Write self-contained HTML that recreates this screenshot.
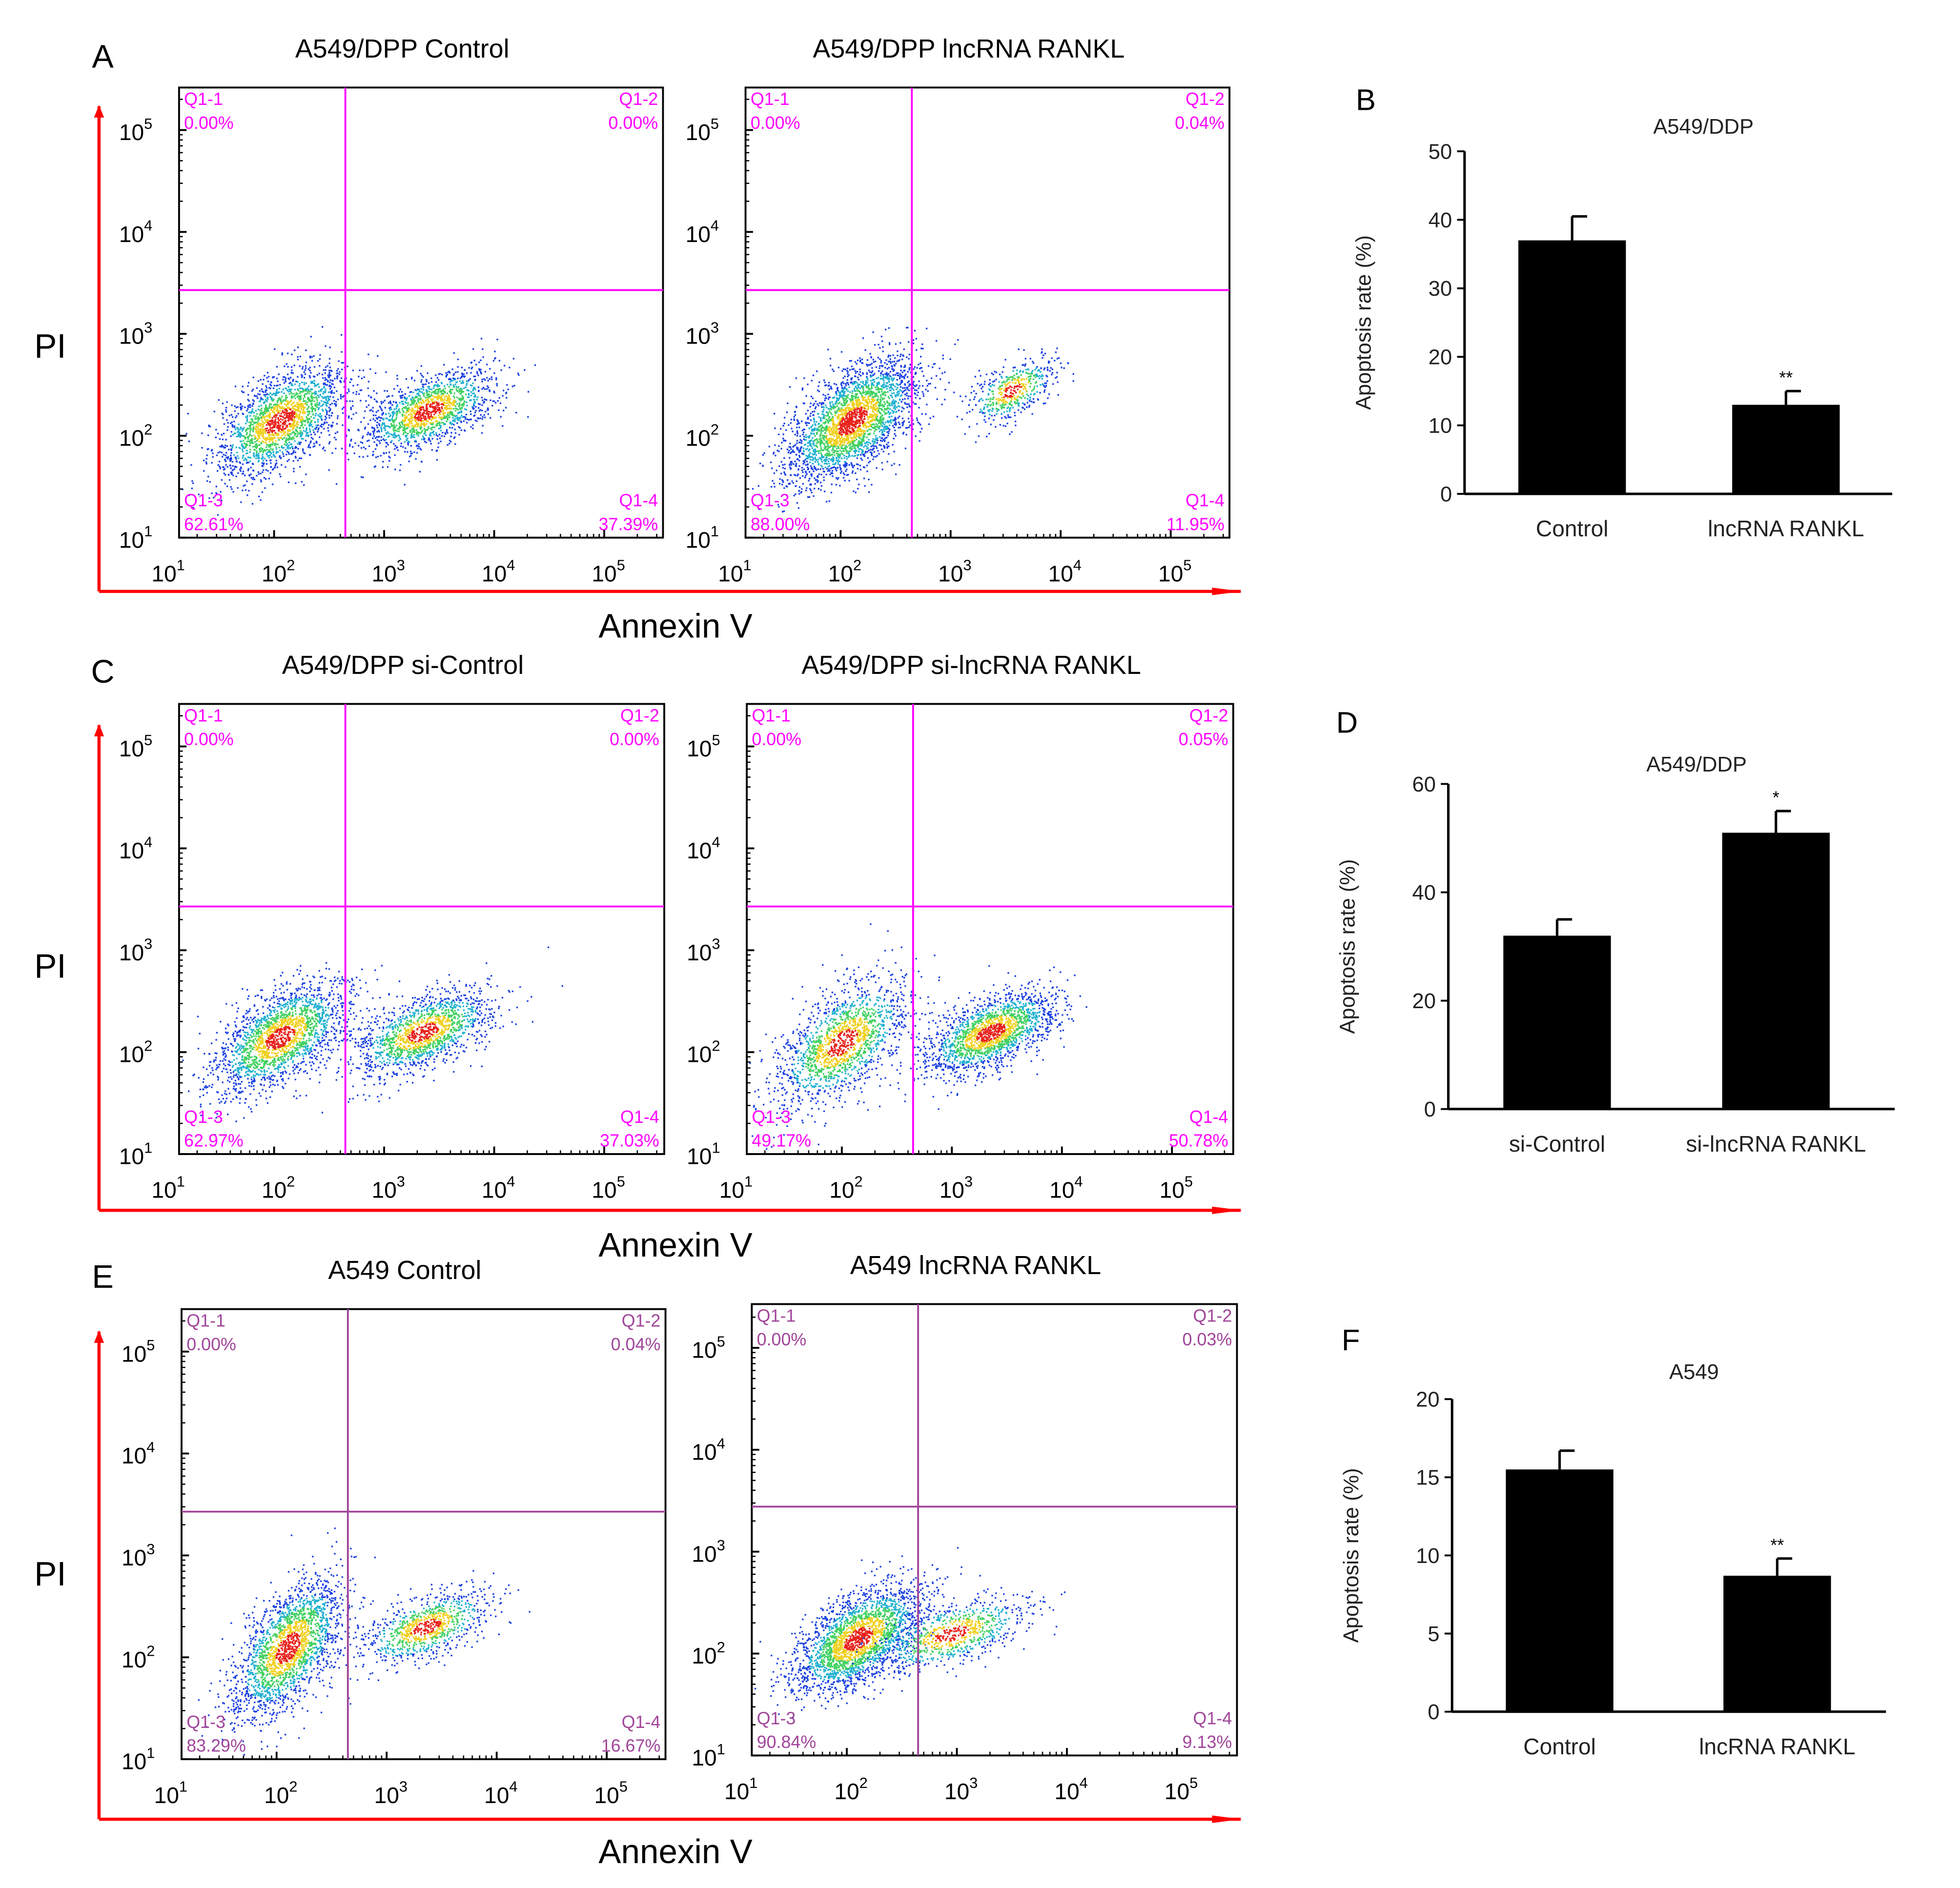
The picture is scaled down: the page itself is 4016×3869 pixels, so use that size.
<!DOCTYPE html>
<html><head><meta charset="utf-8"><style>
html,body{margin:0;padding:0;background:#fff}
svg{display:block}
text{font-family:"Liberation Sans",Arial,sans-serif}
</style></head><body>
<svg id="fig" width="4016" height="3869" viewBox="0 0 1567 1510" xmlns="http://www.w3.org/2000/svg">
<defs><marker id="ar" markerWidth="10" markerHeight="8" refX="9" refY="4" orient="auto" markerUnits="userSpaceOnUse"><path d="M0,0 L10,4 L0,8 z" fill="#f00"/></marker>
<marker id="ar2" markerWidth="24" markerHeight="8" refX="23" refY="4" orient="auto" markerUnits="userSpaceOnUse"><path d="M0,1 L24,4 L0,7 z" fill="#f00"/></marker></defs>
<g id="root"></g>
</svg>
<script>
// ---- bar chart data ----
var barCatsB=["Control","lncRNA RANKL"];
var barValsB=[37,13];
var barErrB=[40.5,15];
var barCatsD=["si-Control","si-lncRNA RANKL"];
var barValsD=[32,51];
var barErrD=[35,55];
var barCatsF=["Control","lncRNA RANKL"];
var barValsF=[15.5,8.7];
var barErrF=[16.7,9.8];
var ticksB=[0,10,20,30,40,50];
var ticksD=[0,20,40,60];
var ticksF=[0,5,10,15,20];
// ---- flow panel data ----
var flowTitles=["A549/DPP Control","A549/DPP lncRNA RANKL","A549/DPP si-Control","A549/DPP si-lncRNA RANKL","A549 Control","A549 lncRNA RANKL"];
var flowQ1=["0.00%","0.00%","0.00%","0.00%","0.00%","0.00%"];
var flowQ2=["0.00%","0.04%","0.00%","0.05%","0.04%","0.03%"];
var flowQ3=["62.61%","88.00%","62.97%","49.17%","83.29%","90.84%"];
var flowQ4=["37.39%","11.95%","37.03%","50.78%","16.67%","9.13%"];
// clusters: [logX, logY, sdX, sdY, count] per panel
var flowClusters=[
 [[2.05,2.15,0.3,0.22,2000],[3.4,2.25,0.3,0.17,1500]],
 [[2.1,2.15,0.3,0.25,2800],[3.55,2.45,0.2,0.13,500]],
 [[2.05,2.15,0.3,0.22,2000],[3.35,2.2,0.32,0.17,1500]],
 [[2.0,2.1,0.3,0.25,1600],[3.35,2.2,0.3,0.17,1800]],
 [[2.1,2.1,0.25,0.28,2100],[3.35,2.3,0.3,0.15,900]],
 [[2.1,2.15,0.3,0.22,2400],[2.95,2.2,0.35,0.15,800]]
];
var flowBoxes=[[143,70,530,430],[596,70,983,430],[143,563,531,923],[597,563,986,923],[145,1047,532,1407],[601,1043,989,1404]];
var flowColors=["#f0f","#f0f","#f0f","#f0f","#a0459a","#a0459a"];

var NS="http://www.w3.org/2000/svg",root=document.getElementById('root');
function el(t,a,p){var e=document.createElementNS(NS,t);for(var k in a)e.setAttribute(k,a[k]);(p||root).appendChild(e);return e;}
function tx(x,y,s,sz,o,p){var e=el('text',Object.assign({x:x,y:y,'font-size':sz,fill:'#000'},o||{}),p);e.textContent=s;return e;}
var seed=12345;function rnd(){seed=(seed*16807)%2147483647;return seed/2147483647;}
function gauss(){var u=rnd()||1e-9,v=rnd();return Math.sqrt(-2*Math.log(u))*Math.cos(6.283*v);}

flowBoxes.forEach(function(b,i){
 var g=el('g',{});
 
 
 var x0=b[0],y0=b[1],x1=b[2],y1=b[3];
 var dx=88,dy=81.5;
 var lx0=x0-12;
 function X(l){return lx0+(l-1)*dx;}
 function Y(l){return y1-(l-1)*dy;}
 var pts=el('g',{},g);
 flowClusters[i].forEach(function(c){
  for(var k=0;k<c[4];k++){
   var a=gauss(),bb=gauss();
   var lx=c[0]+a*c[2],ly=c[1]+bb*c[3]+a*c[3]*0.7;
   var px=X(lx),py=Y(ly);
   if(px<x0+1||px>x1-1||py<y0+1||py>y1-1)continue;
   var r=Math.sqrt(a*a+bb*bb);
   var col=r<0.45?'#e8201a':r<0.8?'#f0d020':r<1.15?'#40d060':r<1.5?'#20b0d0':'#1a40e0';
   el('rect',{x:px.toFixed(1),y:py.toFixed(1),width:1.3,height:1.3,fill:col},pts);
  }
 });
 el('rect',{x:x0,y:y0,width:x1-x0,height:y1-y0,fill:'none',stroke:'#000','stroke-width':1.5},g);
 var qx=x0+133,qy=y0+162;
 el('line',{x1:qx,y1:y0,x2:qx,y2:y1,stroke:flowColors[i],'stroke-width':1.5},g);
 el('line',{x1:x0,y1:qy,x2:x1,y2:qy,stroke:flowColors[i],'stroke-width':1.5},g);
 var c=flowColors[i],fs=14;
 tx(x0+4,y0+14,"Q1-1",fs,{fill:c},g);tx(x0+4,y0+33,flowQ1[i],fs,{fill:c},g);
 tx(x1-4,y0+14,"Q1-2",fs,{fill:c,'text-anchor':'end'},g);tx(x1-4,y0+33,flowQ2[i],fs,{fill:c,'text-anchor':'end'},g);
 tx(x0+4,y1-25,"Q1-3",fs,{fill:c},g);tx(x0+4,y1-6,flowQ3[i],fs,{fill:c},g);
 tx(x1-4,y1-25,"Q1-4",fs,{fill:c,'text-anchor':'end'},g);tx(x1-4,y1-6,flowQ4[i],fs,{fill:c,'text-anchor':'end'},g);
 tx((x0+x1)/2-15,y0-24,flowTitles[i],21,{'text-anchor':'middle'},g);
 for(var d=1;d<=5;d++){
  var yy=Y(d);
  el('line',{x1:x0,y1:yy,x2:x0+6,y2:yy,stroke:'#000','stroke-width':1.5},g);
  for(var m=2;m<10;m++){var ym=Y(d+Math.log10(m));if(ym>y0)el('line',{x1:x0,y1:ym,x2:x0+3,y2:ym,stroke:'#000'},g);}
  var t=tx(x0-48,yy+8,"10",18,{},g);var s=el('tspan',{dy:-9,'font-size':12},t);s.textContent=d;
  var xx=X(d);
  if(xx>=x0) el('line',{x1:xx,y1:y1,x2:xx,y2:y1-6,stroke:'#000','stroke-width':1.5},g);
  for(var m2=2;m2<10;m2++){var xm=X(d+Math.log10(m2));if(xm>x0&&xm<x1)el('line',{x1:xm,y1:y1,x2:xm,y2:y1-3,stroke:'#000'},g);}
  var t2=tx(xx-10,y1+35,"10",18,{},g);var s2=el('tspan',{dy:-9,'font-size':12},t2);s2.textContent=d;
 }
});

[[473,85,276,500,"A",82,48],[968,580,772,995,"C",82,540],[1455,1065,1258,1480,"E",82,1024]].forEach(function(r,i){
 var a=el('line',{x1:79,y1:r[0],x2:79,y2:r[1],stroke:'#f00','stroke-width':2.5,'marker-end':'url(#ar)'});
 
 var b=el('line',{x1:79,y1:r[0],x2:992,y2:r[0],stroke:'#f00','stroke-width':2.5,'marker-end':'url(#ar2)'});
 
 var p=tx(40,r[2]+10,"PI",27,{'text-anchor':'middle'});
 var q=tx(540,r[3]+10,"Annexin V",27,{'text-anchor':'middle'});
 var l=tx(r[5],r[6]+6,r[4],26,{'text-anchor':'middle'});
});

function bars(cfg){
 var g=el('g',{});
 
 
 function Y(v){return cfg.y0-(v/cfg.max)*(cfg.y0-cfg.yTop);}
 el('line',{x1:cfg.ax,y1:cfg.yTop,x2:cfg.ax,y2:cfg.y0,stroke:'#000','stroke-width':2},g);
 el('line',{x1:cfg.ax,y1:cfg.y0,x2:cfg.xEnd,y2:cfg.y0,stroke:'#000','stroke-width':2},g);
 cfg.ticks.forEach(function(t){var y=Y(t);el('line',{x1:cfg.ax-6,y1:y,x2:cfg.ax,y2:y,stroke:'#000','stroke-width':1.5},g);tx(cfg.ax-10,y+6,String(t),17,{'text-anchor':'end',fill:'#222'},g);});
 cfg.vals.forEach(function(v,i){
  var bx=cfg.barX[i],w=86;
  el('line',{x1:bx+w/2,y1:Y(cfg.err[i]),x2:bx+w/2,y2:Y(v),stroke:'#000','stroke-width':2},g);
  el('line',{x1:bx+w/2,y1:Y(cfg.err[i]),x2:bx+w/2+12,y2:Y(cfg.err[i]),stroke:'#000','stroke-width':2},g);
  var r=el('rect',{x:bx,y:Y(v),width:w,height:cfg.y0-Y(v),fill:'#000'},g);
  
  
  tx(bx+w/2,cfg.y0+34,cfg.cats[i],18,{'text-anchor':'middle',fill:'#222'},g);
  if(cfg.stars[i])tx(bx+w/2,Y(cfg.err[i])-6,cfg.stars[i],14,{'text-anchor':'middle'},g);
 });
 tx((cfg.ax+cfg.xEnd)/2+20,cfg.title[1],cfg.title[0],17,{'text-anchor':'middle',fill:'#222'},g);
 tx(0,0,"Apoptosis rate (%)",17,{'text-anchor':'middle',fill:'#222',transform:'translate('+(cfg.ax-75)+','+((cfg.y0+cfg.yTop)/2)+') rotate(-90)'},g);
 tx(cfg.letter[1],cfg.letter[2],cfg.letter[0],24,{'text-anchor':'middle'},g);
}
bars({name:'bar-chart-b',ax:1171,y0:395,yTop:121,max:50,xEnd:1513,ticks:ticksB,vals:barValsB,err:barErrB,cats:barCatsB,barX:[1214,1385],stars:["","**"],title:["A549/DDP",107],letter:["B",1092,88]});
bars({name:'bar-chart-d',ax:1158,y0:887,yTop:627,max:60,xEnd:1515,ticks:ticksD,vals:barValsD,err:barErrD,cats:barCatsD,barX:[1202,1377],stars:["","*"],title:["A549/DDP",617],letter:["D",1077,586]});
bars({name:'bar-chart-f',ax:1161,y0:1369,yTop:1119,max:20,xEnd:1508,ticks:ticksF,vals:barValsF,err:barErrF,cats:barCatsF,barX:[1204,1378],stars:["","**"],title:["A549",1103],letter:["F",1080,1080]});
</script>
</body></html>
